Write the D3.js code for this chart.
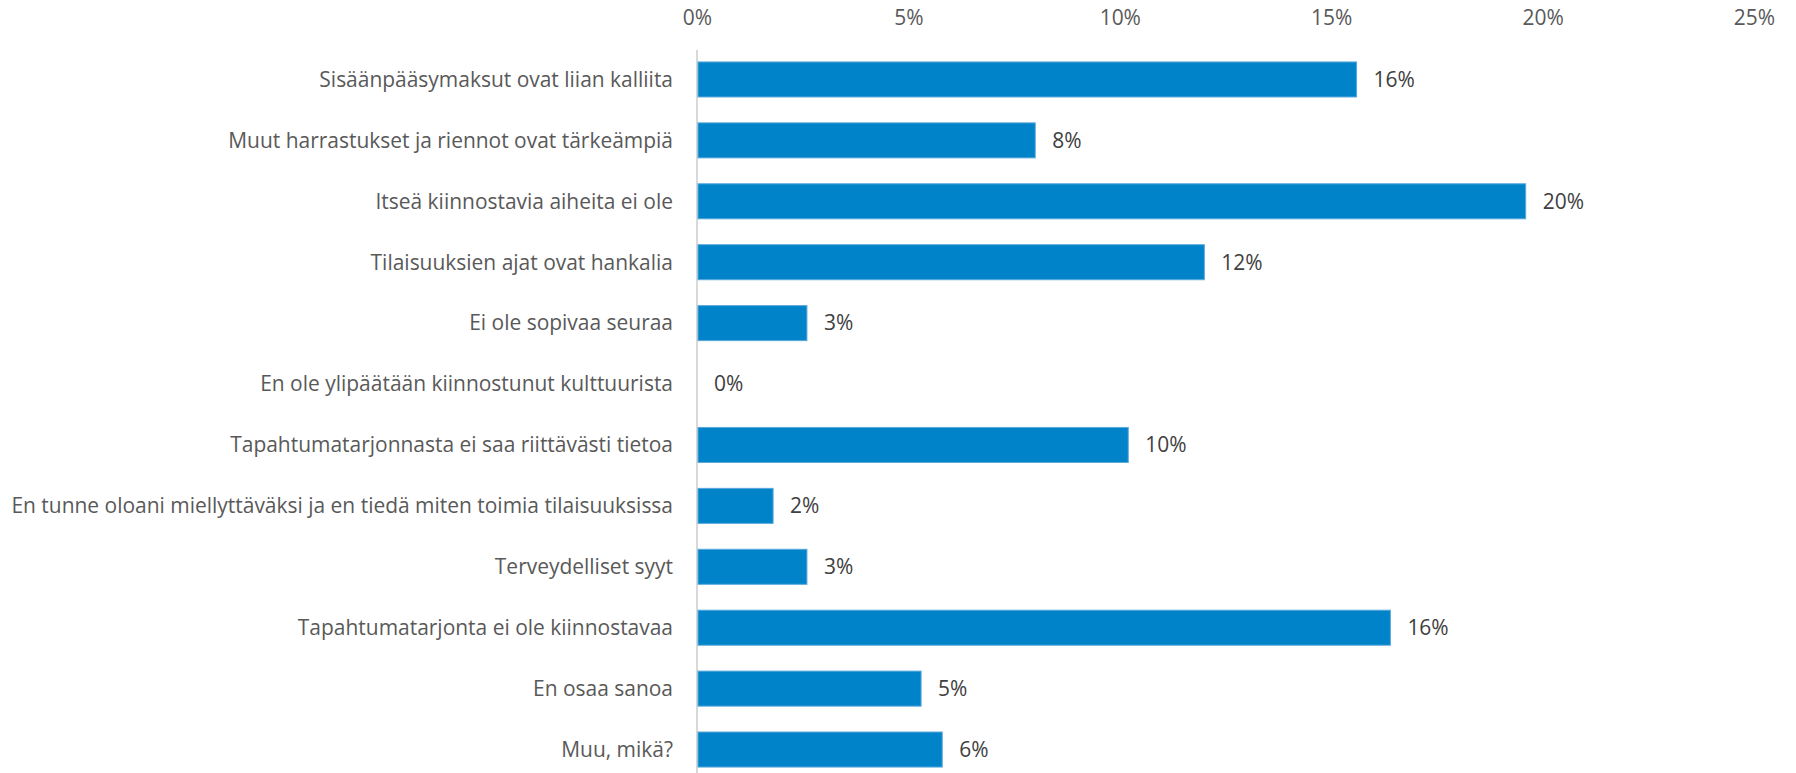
<!DOCTYPE html>
<html>
<head>
<meta charset="utf-8">
<script src="https://cdn.jsdelivr.net/npm/d3@7/dist/d3.min.js"></script>
<style>
  html, body { margin: 0; padding: 0; background: #fff; }
  text { font-family: "Open Sans", "Noto Sans", sans-serif; }
</style>
</head>
<body>
<svg id="chart" width="1796" height="773"></svg>
<script>
const categories = [
  "Sisäänpääsymaksut ovat liian kalliita",
  "Muut harrastukset ja riennot ovat tärkeämpiä",
  "Itseä kiinnostavia aiheita ei ole",
  "Tilaisuuksien ajat ovat hankalia",
  "Ei ole sopivaa seuraa",
  "En ole ylipäätään kiinnostunut kulttuurista",
  "Tapahtumatarjonnasta ei saa riittävästi tietoa",
  "En tunne oloani miellyttäväksi ja en tiedä miten toimia tilaisuuksissa",
  "Terveydelliset syyt",
  "Tapahtumatarjonta ei ole kiinnostavaa",
  "En osaa sanoa",
  "Muu, mikä?"
];
const values = [0.156, 0.080, 0.196, 0.120, 0.026, 0.0, 0.102, 0.018, 0.026, 0.164, 0.053, 0.058];
const xTicks = [0, 0.05, 0.10, 0.15, 0.20, 0.25];

const svg = d3.select("#chart");
const plotLeft = 697, plotRight = 1754, plotTop = 49, plotBottom = 780;

const x = d3.scaleLinear().domain([0, 0.25]).range([plotLeft, plotRight]);
const y = d3.scaleBand()
  .domain(categories)
  .range([plotTop, plotBottom])
  .paddingInner(0.425)
  .paddingOuter(0.2125);

const fmt = d3.format(".0%");

// top axis labels, no ticks or domain
const xAxis = svg.append("g")
  .attr("transform", "translate(0,18)")
  .call(d3.axisTop(x).tickValues(xTicks).tickFormat(fmt).tickSize(0).tickPadding(0));
xAxis.select(".domain").remove();
xAxis.selectAll("text")
  .attr("fill", "#595959")
  .attr("dy", "0.35em")
  .attr("font-size", 20);

// vertical category axis line
svg.append("line")
  .attr("x1", x(0)).attr("x2", x(0))
  .attr("y1", plotTop + 1).attr("y2", 773)
  .attr("stroke", "#d9d9d9")
  .attr("stroke-width", 2);

// bars
svg.append("g")
  .selectAll("rect")
  .data(values)
  .enter()
  .append("rect")
  .attr("x", x(0) + 1)
  .attr("y", (d, i) => y(categories[i]))
  .attr("width", d => Math.max(0, x(d) - x(0) - 1))
  .attr("height", y.bandwidth())
  .attr("fill", "#0083c9")
  .attr("stroke", d => d > 0 ? "#5aa9dc" : "none")
  .attr("stroke-width", 1);

// value labels
svg.append("g")
  .selectAll("text")
  .data(values)
  .enter()
  .append("text")
  .attr("class", "vlabel")
  .attr("x", d => x(d) + 17)
  .attr("y", (d, i) => y(categories[i]) + y.bandwidth() / 2)
  .attr("dy", "0.35em")
  .attr("fill", "#404040")
  .attr("font-size", 20)
  .text(d => fmt(Math.round(d * 100) / 100));

// category labels
const cats = svg.append("g")
  .selectAll("text")
  .data(categories)
  .enter()
  .append("text")
  .attr("class", "clabel")
  .attr("x", 673)
  .attr("y", d => y(d) + y.bandwidth() / 2)
  .attr("dy", "0.35em")
  .attr("text-anchor", "end")
  .attr("fill", "#595959")
  .attr("font-size", 20)
  .text(d => d);

// fit font size so the longest label spans like the original
let longest = 0;
cats.each(function () { longest = Math.max(longest, this.getComputedTextLength()); });
const fs = 20 * 662 / longest;
svg.selectAll("text").attr("font-size", fs);
</script>
</body>
</html>
